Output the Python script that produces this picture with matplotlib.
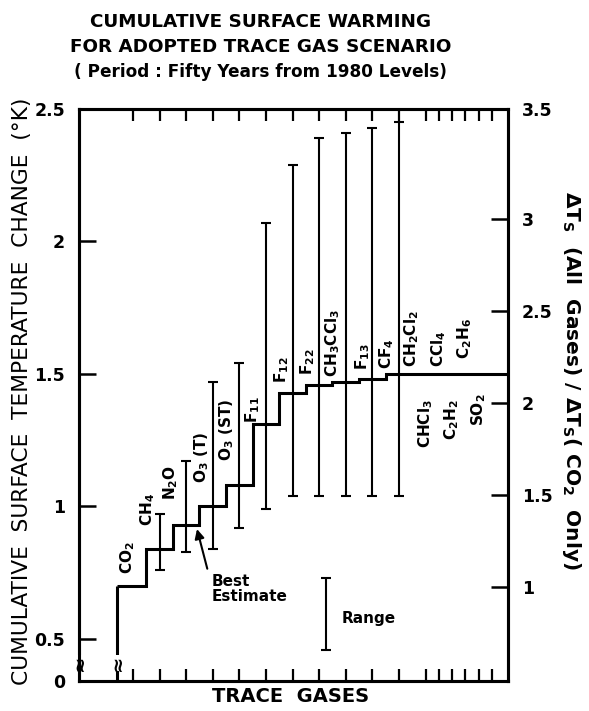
import matplotlib
matplotlib.use('Agg')
import matplotlib.pyplot as plt
import numpy as np

plt.rcParams['font.family'] = ['DejaVu Sans']
plt.rcParams['mathtext.default'] = 'bf'

# ---- data ----
gases = ['CO$_2$', 'CH$_4$', 'N$_2$O', 'O$_3$ (T)', 'O$_3$ (ST)', 'F$_{11}$',
         'F$_{12}$', 'F$_{22}$', 'CH$_3$CCl$_3$', 'F$_{13}$', 'CF$_4$']
cumulative = [0.70, 0.84, 0.93, 1.00, 1.08, 1.31, 1.43, 1.46, 1.47, 1.48, 1.50]
range_low = [np.nan, 0.76, 0.83, 0.84, 0.92, 0.99, 1.04, 1.04, 1.04, 1.04, 1.04]
range_high = [np.nan, 0.97, 1.17, 1.47, 1.54, 2.07, 2.29, 2.39, 2.41, 2.43, 2.45]
minor_gases = ['CH$_2$Cl$_2$', 'CHCl$_3$', 'CCl$_4$', 'C$_2$H$_2$', 'C$_2$H$_6$', 'SO$_2$']
left_ticks = [0.5, 1, 1.5, 2, 2.5]
left_labels = ['0.5', '1', '1.5', '2', '2.5']
right_ticks = [1, 1.5, 2, 2.5, 3]
right_labels = ['1', '1.5', '2', '2.5', '3']
legend_range = [0.46, 0.73]

# ---- layout ----
W, H = 589, 711
fig = plt.figure(figsize=(W / 100, H / 100), dpi=100)
ax = fig.add_axes([79 / W, 1 - 681 / H, (508 - 79) / W, (681 - 109) / H])

YBOT, YTOP = 0.3415, 2.5
XMIN, XMAX = -2.03, 14.1
ax.set_ylim(YBOT, YTOP)
ax.set_xlim(XMIN, XMAX)

n = len(gases)
xc = np.arange(n)
minor_x = n + 0.5 * np.arange(len(minor_gases))
co2_start = -0.6

# step curve
edges = np.concatenate([[co2_start], xc[1:] - 0.5, [XMAX]])
ax.stairs(cumulative, edges, baseline=None, color='black', lw=2.2)
ax.vlines(co2_start, YBOT, cumulative[0], color='black', lw=2.2)

# ranges
lo = np.array(range_low); hi = np.array(range_high)
ok = ~np.isnan(lo)
ax.errorbar(xc[ok], (lo[ok] + hi[ok]) / 2, yerr=(hi[ok] - lo[ok]) / 2, fmt='none',
            ecolor='black', elinewidth=1.5, capsize=3.5, capthick=1.5)

# gas labels
lab_y = [0.745, 0.925, 1.025, 1.09, 1.17, 1.315, 1.465, 1.495, 1.49, 1.515, 1.52]
lab_dx = [-0.2, -0.45, -0.6, -0.42, -0.48, -0.5, -0.42, -0.42, -0.5, -0.35, -0.45]
for i, g in enumerate(gases):
    ax.text(xc[i] + lab_dx[i], lab_y[i], g, rotation=90, ha='center', va='bottom',
            fontsize=11, fontweight='bold')
for j, g in enumerate(minor_gases):
    if j % 2 == 0:
        ax.text(minor_x[j] - 0.52, 1.525 + (0.03 if j == 4 else 0), g, rotation=90,
                ha='center', va='bottom', fontsize=11, fontweight='bold')
    else:
        ax.text(minor_x[j] - 0.5, 1.405 + (0.02 if j == 5 else 0), g, rotation=90,
                ha='center', va='top', fontsize=11, fontweight='bold')

# best estimate
ax.annotate('', xy=(2.38, 0.925), xytext=(2.82, 0.755),
            arrowprops=dict(arrowstyle='-|>', color='black', lw=1.5, mutation_scale=14))
ax.text(2.95, 0.745, 'Best\nEstimate', ha='left', va='top', fontsize=11,
        fontweight='bold', linespacing=1.0)

# range legend
ax.errorbar([7.26], [np.mean(legend_range)], yerr=[(legend_range[1] - legend_range[0]) / 2],
            fmt='none', ecolor='black', elinewidth=1.5, capsize=3.5, capthick=1.5)
ax.text(7.85, 0.579, 'Range', ha='left', va='center', fontsize=11, fontweight='bold')

# axis break marks
for xb in (XMIN, co2_start):
    ax.text(xb, 0.41, '\u2248', rotation=90, ha='center', va='center', fontsize=14,
            fontweight='bold', bbox=dict(facecolor='white', edgecolor='none', pad=0.0),
            clip_on=False, zorder=5)

# spines / ticks
for s in ax.spines.values():
    s.set_linewidth(2.2)
xt = np.concatenate([xc, minor_x])
ax.set_xticks(xt)
ax.set_xticklabels([])
ax.tick_params(axis='x', which='both', direction='in', length=8.5, width=1.6,
               top=True, bottom=True)
ax.set_yticks([YBOT] + left_ticks)
ax.set_yticklabels(['0'] + left_labels, fontsize=12.5, fontweight='bold')
ax.tick_params(axis='y', direction='in', length=12, width=1.8, pad=10)

ax2 = ax.twinx()
R1_PX, R2_PX = 587, 403
per = (R1_PX - R2_PX)
r_bot = 1 - (681 - R1_PX) / per
r_top = 1 + (R1_PX - 109) / per
ax2.set_ylim(r_bot, r_top)
ax2.set_yticks(right_ticks + [r_top])
ax2.set_yticklabels(right_labels + ['3.5'], fontsize=12.5, fontweight='bold')
ax2.tick_params(axis='y', direction='in', length=12, width=1.8, pad=10)
for s in ax2.spines.values():
    s.set_linewidth(2.2)

# axis titles
fig.text(22 / W, 1 - 391 / H, 'CUMULATIVE  SURFACE  TEMPERATURE  CHANGE  (\u00b0K)',
         rotation=90, ha='center', va='center', fontsize=15.7)
fig.text(572 / W, 1 - 380 / H,
         r'$\Delta$T$_S$  (All  Gases) / $\Delta$T$_S$( CO$_2$  Only)',
         rotation=-90, ha='center', va='center', fontsize=14.5, fontweight='bold')
fig.text(291 / W, 1 - 697 / H, 'TRACE  GASES', ha='center', va='center',
         fontsize=14, fontweight='bold')

# title
fig.text(261 / W, 1 - 22 / H, 'CUMULATIVE SURFACE WARMING', ha='center', va='center',
         fontsize=13.2, fontweight='bold')
fig.text(261 / W, 1 - 47 / H, 'FOR ADOPTED TRACE GAS SCENARIO', ha='center', va='center',
         fontsize=13.2, fontweight='bold')
fig.text(261 / W, 1 - 72 / H, '( Period : Fifty Years from 1980 Levels)', ha='center',
         va='center', fontsize=12.2, fontweight='bold')

fig.savefig('out.png', dpi=100)
